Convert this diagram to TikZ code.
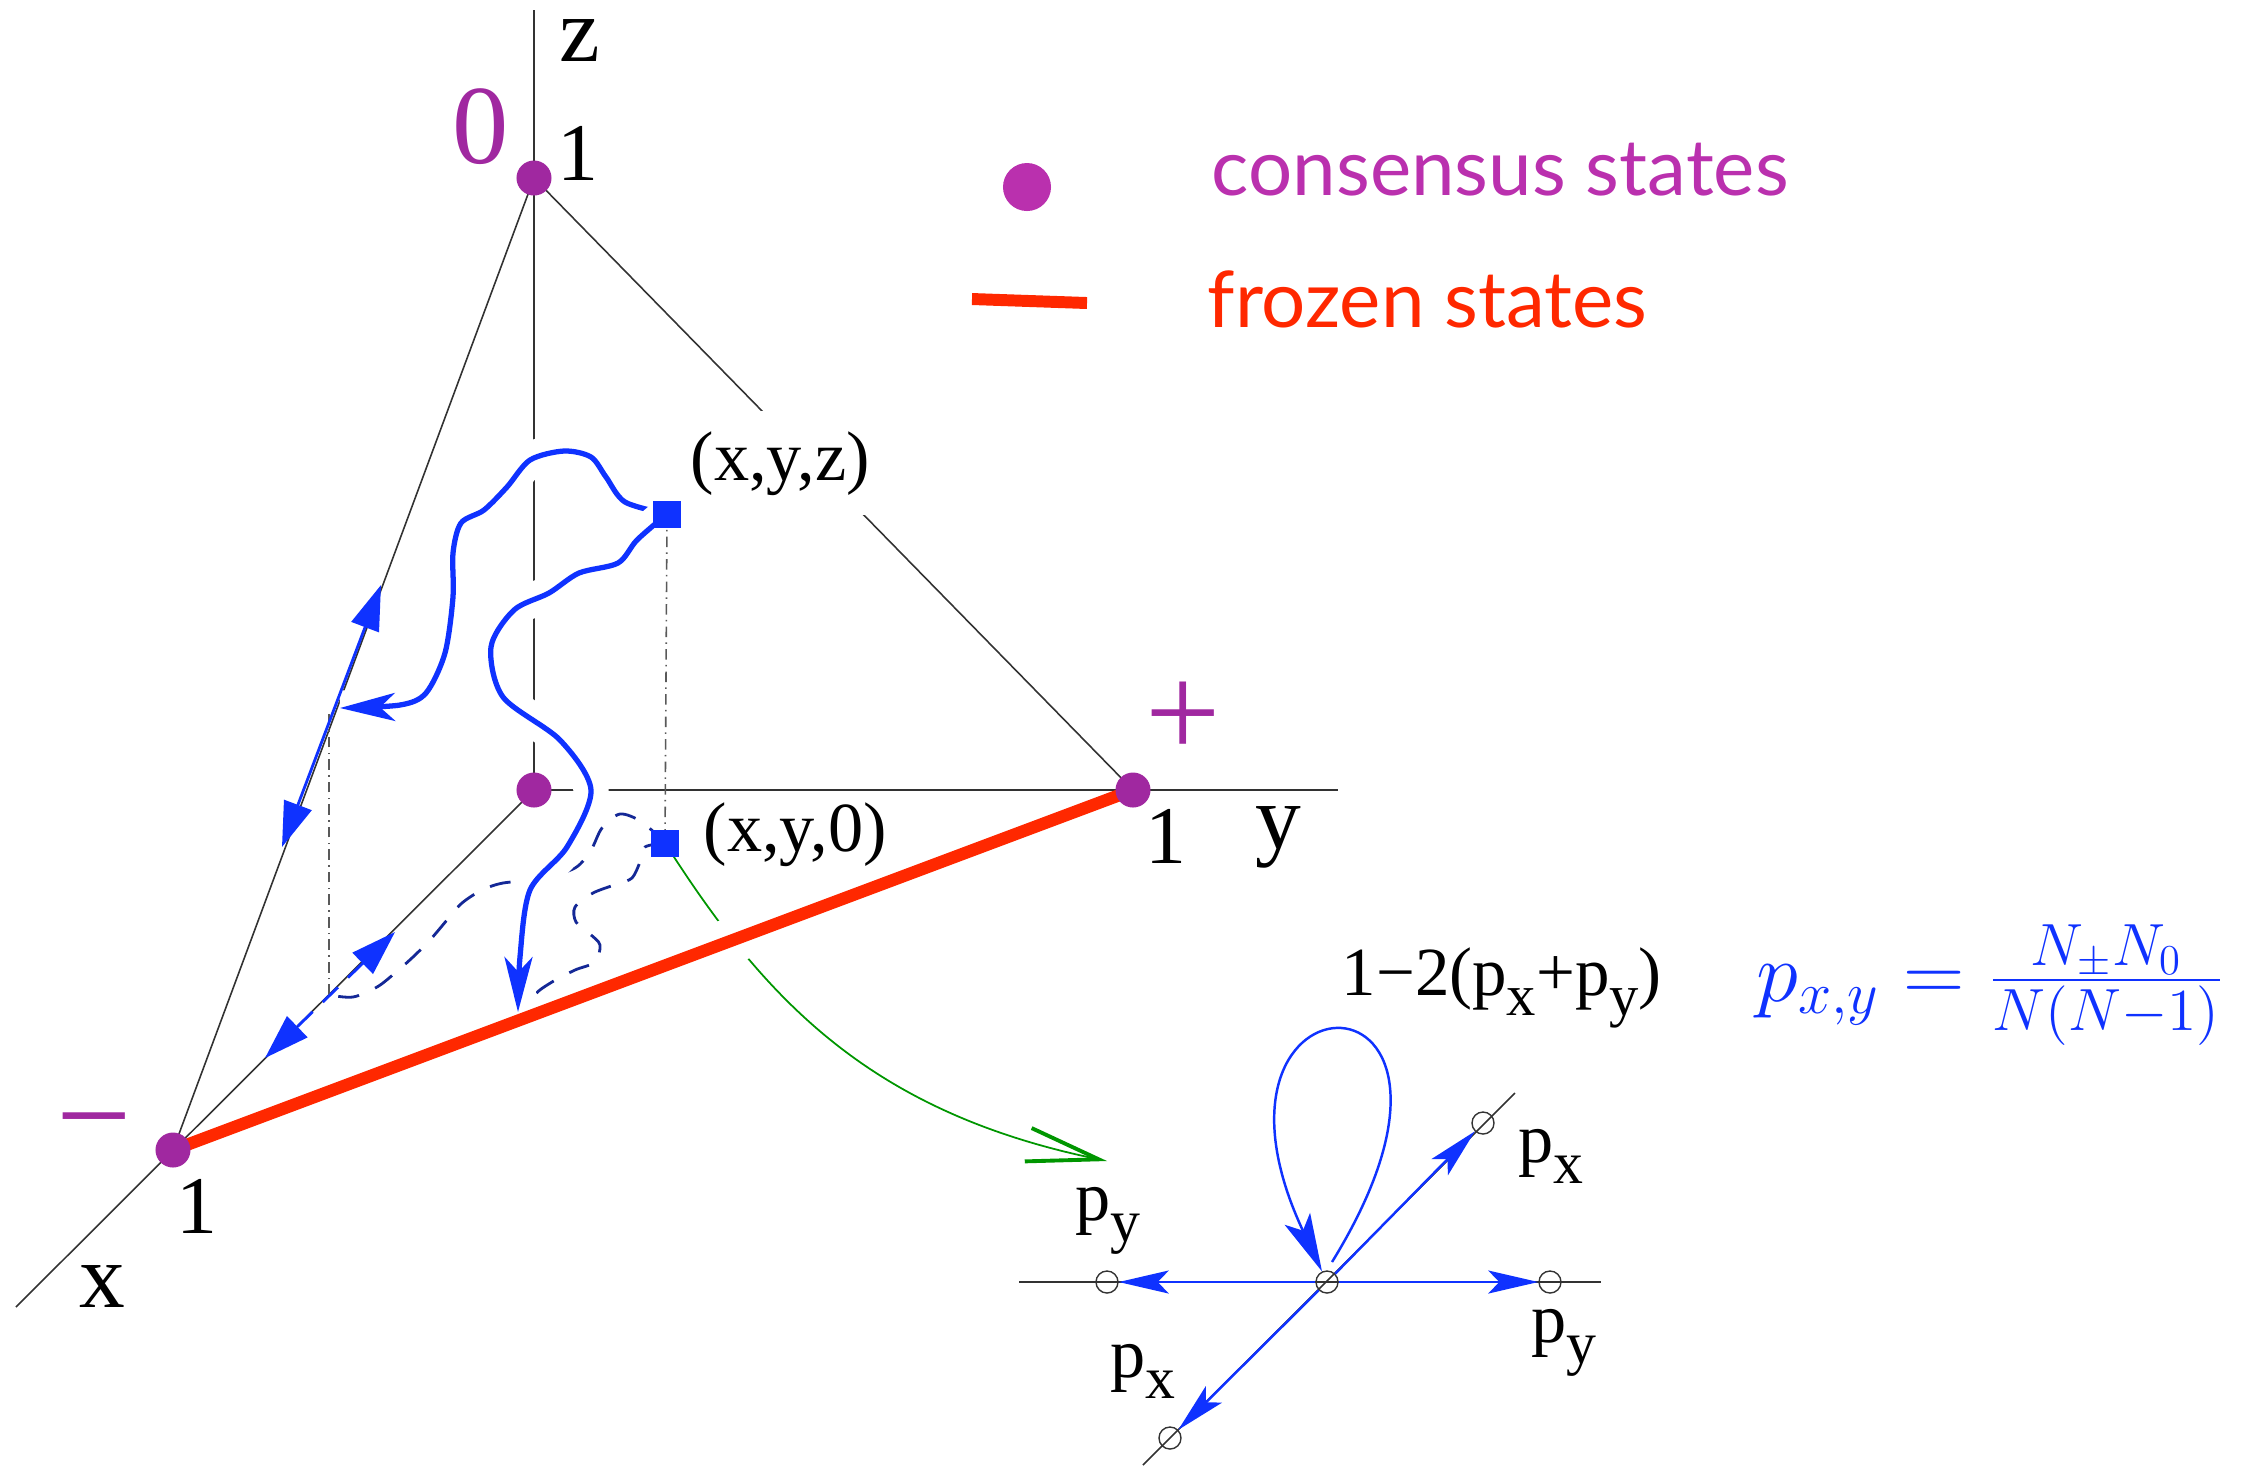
\RequirePackage{fix-cm}
\documentclass[tikz,border=0pt]{standalone}
\usepackage[no-math]{fontspec}
\setmainfont{Liberation Serif}
\newfontfamily\legendfont{Lato}
\usepackage{graphicx}
\usepackage{xcolor}
\definecolor{dotpurple}{RGB}{160,40,160}
\definecolor{legpurple}{RGB}{186,48,174}
\definecolor{frozenred}{RGB}{255,40,0}
\definecolor{flowblue}{RGB}{15,50,255}
\definecolor{projnavy}{RGB}{20,40,150}
\definecolor{mapgreen}{RGB}{0,150,0}
\definecolor{axisgray}{RGB}{50,50,50}
\usepackage{tikz}
\usetikzlibrary{arrows.meta,calc}
\newcommand{\lsub}[1]{\raisebox{-0.3em}{\scalebox{0.85}{#1}}}
\tikzset{
  axis/.style={draw=axisgray,line width=0.45pt},
  frozen/.style={draw=frozenred,line width=3.5pt},
  consensus/.style={circle,fill=dotpurple,inner sep=0pt,minimum size=3.5mm},
  statebox/.style={rectangle,fill=flowblue,inner sep=0pt,minimum size=2.7mm},
  flow/.style={draw=flowblue,line width=1.5pt,-{Stealth[length=5.5mm,width=2.8mm,inset=1.5mm]},
    preaction={draw=white,line width=10pt,-}},
  proj/.style={draw=projnavy,line width=0.8pt,dash pattern=on 6pt off 5pt},
  edgeflow/.style={draw=flowblue,line width=0.8pt,{Triangle[length=4.5mm,width=2.9mm]}-{Triangle[length=4.5mm,width=2.9mm]}},
  drop/.style={draw=black!65,line width=0.45pt,dash pattern=on 3pt off 1.5pt on 0.4pt off 1.5pt},
  map/.style={draw=mapgreen,line width=0.5pt,-{Straight Barb[length=7.2mm,width=3.4mm,line width=1.1pt]}},
  site/.style={circle,draw=black!80,line width=0.4pt,inner sep=0pt,minimum size=2.2mm},
  hop/.style={draw=flowblue,line width=0.7pt,-{Stealth[length=5mm,width=2.3mm,inset=1.1mm]}},
  lbl/.style={inner sep=0pt,font=\fontsize{20pt}{24pt}\selectfont},
  num/.style={lbl,font=\fontsize{23.3pt}{28pt}\selectfont},
  axlbl/.style={lbl,font=\fontsize{26pt}{30pt}\selectfont},
  sign/.style={lbl,text=dotpurple,font=\fontsize{38pt}{44pt}\selectfont},
  legend/.style={inner sep=0pt,font=\legendfont\fontsize{22.2pt}{27pt}\selectfont}
}

\begin{document}
\begin{tikzpicture}[x=0.01cm,y=-0.01cm]
  \useasboundingbox (0,0) rectangle (2266,1465);
  % corners of the simplex
  \coordinate (T) at (534,178);
  \coordinate (O) at (534,790);
  \coordinate (X1) at (173,1150);
  \coordinate (Y1) at (1133,790);
  \coordinate (ztop) at (534,10);
  \coordinate (yend) at (1338,790);
  \coordinate (xend) at (16,1307);
  % state and its projections
  \coordinate (S) at (667,514);
  \coordinate (S0) at (665,843);
  \coordinate (eX) at (340,708);
  \coordinate (fX) at (518,1012);
  \coordinate (fX0) at (535,1013);
  \coordinate (xp) at (329,995);
  \coordinate (ep) at (329,710);
  \coordinate (ea) at (381,585);
  \coordinate (eb) at (282,847);
  \coordinate (xa) at (395,932);
  \coordinate (xb) at (265,1058);
  \coordinate (gtip) at (1107,1161);

  % axes and edges
  \draw[axis] (ztop) -- (O) -- (yend);
  \draw[axis] (O) -- (xend);
  \draw[axis] (T) -- (X1);
  \draw[axis] (T) -- (Y1);
  \node[lbl,fill=white,inner sep=0.2cm,anchor=base west] (lxyz) at (670,480) {(x,y,z)};

  % projected walks
  \draw[proj] plot[smooth] coordinates {(S0) (642,822) (620,814) (602,828) (591,850) (575,868) (540,879) (503,883) (482,890) (462,903) (447,920) (430,940) (413,957) (395,973) (377,987) (353,997) (xp)};
  \draw[proj] plot[smooth] coordinates {(S0) (645,847) (640,862) (632,878) (617,884) (593,893) (575,907) (576,922) (590,934) (600,945) (595,962) (575,970) (552,982) (535,995) (fX0)};

  % map to the local picture
  \draw[map] (S0) .. controls (765,1000) and (870,1112) .. (gtip);

  % walks of the state
  \draw[flow] plot[smooth] coordinates {(S) (625,502) (606,477) (591,457) (564,451) (530,460) (507,487) (484,510) (461,523) (453,553) (453,597) (445,653) (426,693) (400,705) (eX)};
  \draw[flow] plot[smooth] coordinates {(S) (637,540) (618,563) (579,573) (549,593) (514,610) (491,647) (503,697) (560,740) (591,790) (567,847) (530,890) (520,957) (fX)};

  % frozen line
  \draw[white,line width=13pt] ($(X1)!0.55!(Y1)$) -- ($(X1)!0.6!(Y1)$);
  \draw[frozen] (X1) -- (Y1);

  % drop lines and walks on the edges
  \draw[drop] (S) -- (S0);
  \draw[drop] (xp) -- (ep);
  \draw[edgeflow] (ea) -- (eb);
  \draw[edgeflow,dash pattern=on 6pt off 4pt] (xa) -- (xb);

  % consensus states and state boxes
  \node[consensus] (cT) at (T) {};
  \node[consensus] (cO) at (O) {};
  \node[consensus] (cX) at (X1) {};
  \node[consensus] (cY) at (Y1) {};
  \node[statebox] (sS) at (S) {};
  \node[statebox] (sS0) at (S0) {};

  % labels
  \node[axlbl,anchor=base] (lz) at (580,61) {z};
  \node[axlbl,anchor=base] (lx) at (102,1307) {x};
  \node[axlbl,anchor=base] (ly) at (1278,848) {y};
  \node[num,anchor=base] (nT) at (578,180) {1};
  \node[num,anchor=base] (nX) at (197,1233) {1};
  \node[num,anchor=base] (nY) at (1166,863) {1};
  \node[lbl,text=dotpurple,font=\fontsize{32pt}{38pt}\selectfont,anchor=base] (zero) at (481,163) {0};
  \node[sign,anchor=base] (plus) at (1183,757) {+};
  \node[sign,anchor=base] (minus) at (94,1160) {−};
  \node[lbl,anchor=base west] (lxy0) at (703,851) {(x,y,0)};

  % legend
  \node[consensus,fill=legpurple,minimum size=4.8mm] (legdot) at (1027,187) {};
  \coordinate (lr1) at (972,299);
  \coordinate (lr2) at (1087,303);
  \draw[frozen,line width=3.4pt] (lr1) -- (lr2);
  \node[legend,text=legpurple,anchor=base west] (legc) at (1211,195) {consensus states};
  \node[legend,text=frozenred,anchor=base west] (legf) at (1207,327) {frozen states};

  % local transitions
  \coordinate (gl) at (1019,1282);
  \coordinate (gr) at (1601,1282);
  \coordinate (gd) at (1143,1465);
  \coordinate (gu) at (1515,1093);
  \draw[axis] (gl) -- (gr);
  \draw[axis] (gd) -- (gu);
  \node[site] (C) at (1327,1282) {};
  \node[site] (L) at (1107,1282) {};
  \node[site] (R) at (1550,1282) {};
  \node[site] (UR) at (1483,1123) {};
  \node[site] (LL) at (1170,1438) {};
  \draw[hop] (C) -- (L);
  \draw[hop] (C) -- (R);
  \draw[hop] (C) -- (UR);
  \draw[hop] (C) -- (LL);
  \draw[hop,-{Stealth[length=5.8mm,width=2.8mm,inset=1.3mm]}] ($(C.70)+(1,-9)$) .. controls (1523,952) and (1175,958) .. (C);
  \node[lbl,font=\fontsize{19.6pt}{24pt}\selectfont,anchor=base west] (stay) at (1341,995) {1−2(p\lsub{x}+p\lsub{y})};
  \node[lbl,anchor=base west] (pyl) at (1075,1220) {p\lsub{y}};
  \node[lbl,anchor=base west] (pxl) at (1110,1377) {p\lsub{x}};
  \node[lbl,anchor=base west] (pxr) at (1518,1162) {p\lsub{x}};
  \node[lbl,anchor=base west] (pyr) at (1531,1342) {p\lsub{y}};
  \node[inner sep=0pt,text=flowblue,font=\fontsize{24.2pt}{29pt}\selectfont,anchor=west] (pxy) at (1756,985) {$p_{x,y}=\frac{N_\pm N_0}{N(N-1)}$};
\end{tikzpicture}
\end{document}
